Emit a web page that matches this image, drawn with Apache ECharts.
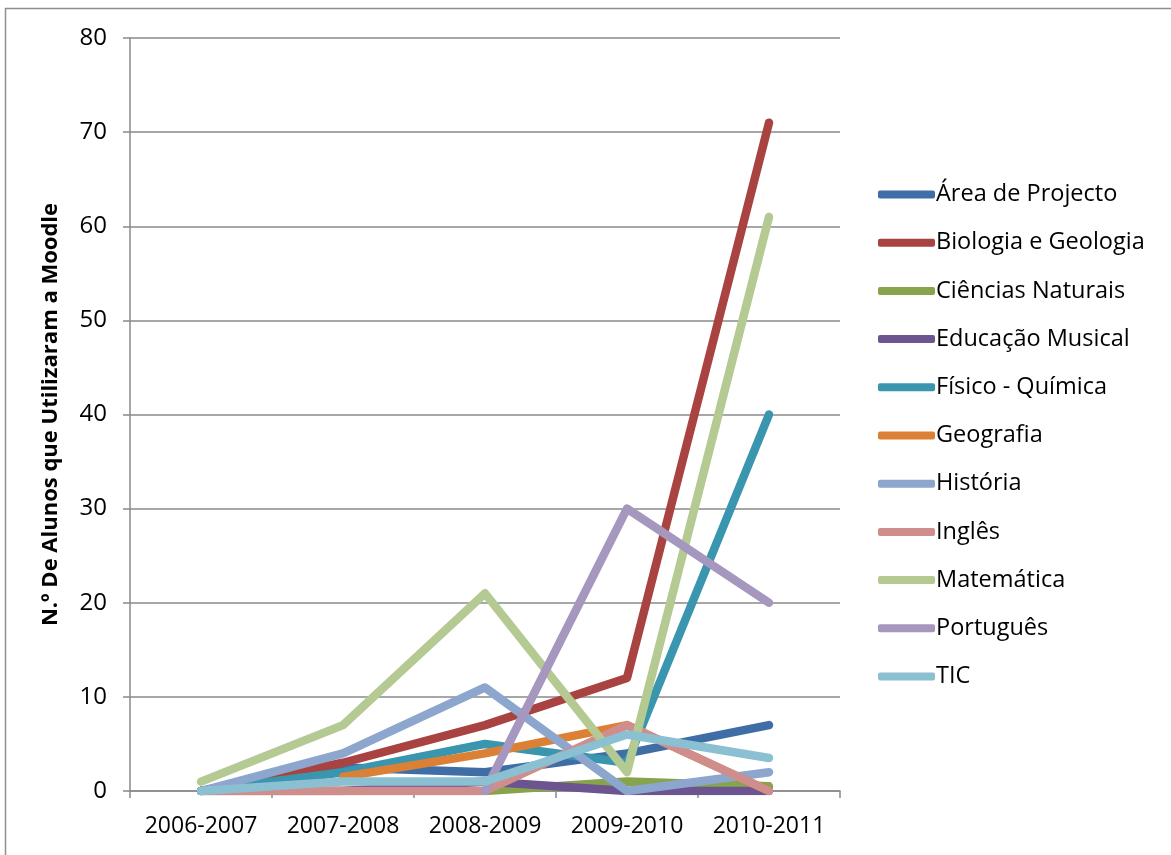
<!DOCTYPE html>
<html>
<head>
<meta charset="utf-8">
<script src="https://cdn.jsdelivr.net/npm/echarts@6/dist/echarts.min.js"></script>
<style>
  html, body { margin: 0; padding: 0; background: #ffffff; }
  #chart { width: 1171px; height: 855px; }
</style>
</head>
<body>
<div id="chart"></div>
<script>
// School years on the category axis
const years = ['2006-2007', '2007-2008', '2008-2009', '2009-2010', '2010-2011'];

// Students using Moodle per subject (null = no record that year)
const areaProjecto   = [0, 2.5, 2, 4, 7];
const biologiaGeo    = [0, 3, 7, 12, 71];
const cienciasNat    = [0, 0, 0, 1, 0.5];
const educacaoMus    = [0, 0, 1, 0, 0];
const fisicoQuimica  = [0, 2, 5, 3, 40];
const geografia      = [null, 1.5, 4, 7, 0];
const historia       = [0, 4, 11, 0, 2];
const ingles         = [0, 0, 0, 7, 0];
const matematica     = [1, 7, 21, 2, 61];
const portugues      = [null, null, 0, 30, 20];
const tic            = [0, 1, 1, 6, 3.5];

const subjectNames = ['Área de Projecto', 'Biologia e Geologia', 'Ciências Naturais', 'Educação Musical',
  'Físico - Química', 'Geografia', 'História', 'Inglês', 'Matemática', 'Português', 'TIC'];
const subjectValues = [areaProjecto, biologiaGeo, cienciasNat, educacaoMus, fisicoQuimica,
  geografia, historia, ingles, matematica, portugues, tic];
const subjectColors = ['#3f6ea6', '#a84341', '#87a34b', '#6c5490', '#3a96af',
  '#dc8036', '#8ca6cd', '#cf8d8b', '#b4ca92', '#a597bd', '#8bc0d3'];

const yTicks = { min: 0, max: 80, interval: 10 };

const FONT = '"Open Sans", Lato, sans-serif';
const AXIS_GRAY = '#8a8a8a';

const chart = echarts.init(document.getElementById('chart'), null, { renderer: 'canvas' });

chart.setOption({
  backgroundColor: '#ffffff',
  animation: false,
  color: subjectColors,
  graphic: [{
    type: 'rect',
    shape: { x: 5.5, y: 8.5, width: 1200, height: 900 },
    style: { fill: 'none', stroke: '#8e8e8e', lineWidth: 1.5 },
    silent: true
  }],
  grid: { left: 130, right: 331, top: 38, bottom: 64 },
  legend: {
    orient: 'vertical',
    left: 878,
    top: 182,
    padding: 0,
    itemWidth: 57,
    itemHeight: 8,
    itemGap: 23.2,
    icon: 'roundRect',
    textStyle: { fontFamily: FONT, fontSize: 23.5, color: '#000', lineHeight: 25, padding: [0, 0, 0, -4] },
    data: subjectNames
  },
  xAxis: {
    type: 'category',
    data: years,
    boundaryGap: true,
    axisLine: { show: true, lineStyle: { color: AXIS_GRAY, width: 1.5 } },
    axisTick: { show: true, length: 7, alignWithLabel: false, interval: 0, lineStyle: { color: AXIS_GRAY, width: 1.5 } },
    axisLabel: { fontFamily: FONT, fontSize: 23, color: '#000', margin: 24, interval: 0, hideOverlap: false },
    splitLine: { show: false }
  },
  yAxis: {
    type: 'value',
    min: yTicks.min,
    max: yTicks.max,
    interval: yTicks.interval,
    name: 'N.º De Alunos que Utilizaram a Moodle',
    nameLocation: 'middle',
    nameGap: 68,
    nameRotate: 90,
    nameTextStyle: { fontFamily: FONT, fontSize: 22, fontWeight: 'bold', color: '#000' },
    axisLine: { show: true, lineStyle: { color: AXIS_GRAY, width: 1.5 } },
    axisTick: { show: true, length: 7, lineStyle: { color: AXIS_GRAY, width: 1.5 } },
    axisLabel: { fontFamily: FONT, fontSize: 24, color: '#000', margin: 23 },
    splitLine: { show: true, lineStyle: { color: AXIS_GRAY, width: 1.5 } }
  },
  series: subjectNames.map((name, i) => ({
    name: name,
    type: 'line',
    data: subjectValues[i],
    showSymbol: false,
    symbol: 'none',
    connectNulls: false,
    lineStyle: { width: 8.5, color: subjectColors[i], cap: 'round', join: 'round' },
    itemStyle: { color: subjectColors[i] }
  }))
});
</script>
</body>
</html>
